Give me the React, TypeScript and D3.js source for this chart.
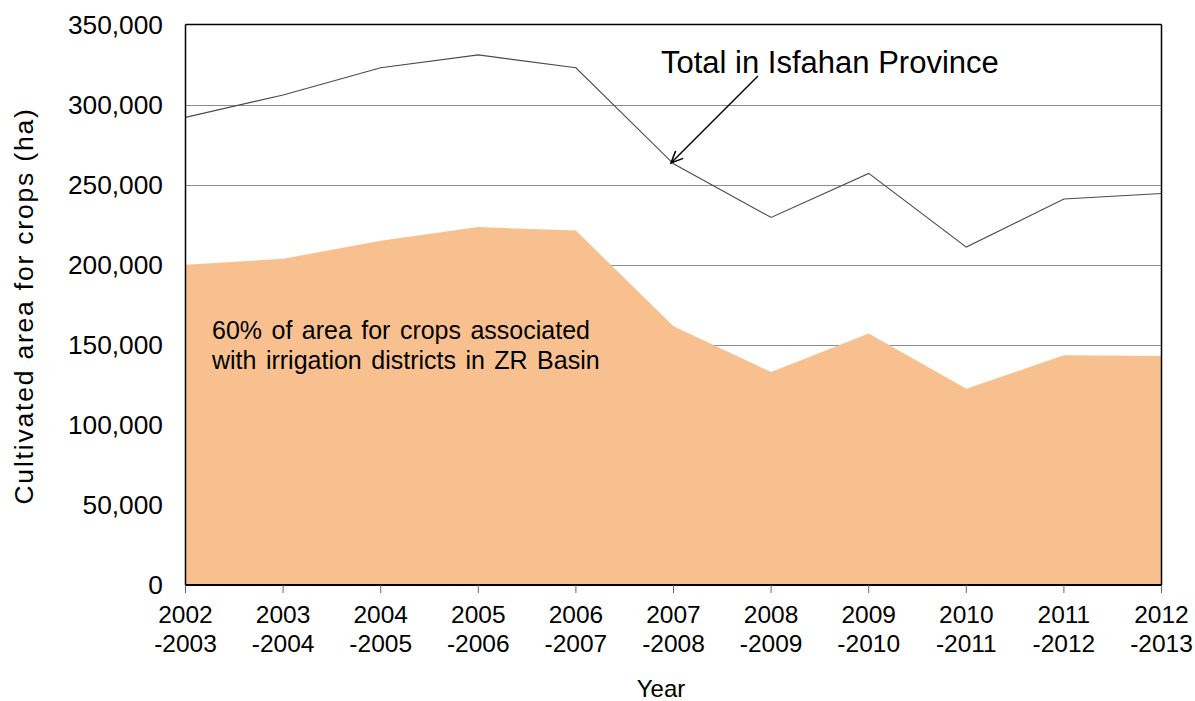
import React from "react";
import * as d3 from "d3";

const categories = ["2002", "2003", "2004", "2005", "2006", "2007", "2008", "2009", "2010", "2011", "2012"];
const categoryEnds = ["-2003", "-2004", "-2005", "-2006", "-2007", "-2008", "-2009", "-2010", "-2011", "-2012", "-2013"];
const totalIsfahan = [292000, 306000, 323000, 331000, 323000, 263000, 229500, 257000, 211000, 241000, 244500];
const zrBasin = [200000, 203700, 215000, 223500, 221300, 161500, 133000, 157000, 122500, 143500, 143000];
const yTicks = [0, 50000, 100000, 150000, 200000, 250000, 300000, 350000];

const W = 1195, H = 701;
const left = 185.5, right = 1161.5, top = 24.5, bottom = 585;
const font = "'Liberation Sans', Arial, sans-serif";

export default function App() {
  const x = d3.scalePoint<string>().domain(categories).range([left, right]);
  const y = d3.scaleLinear().domain([0, 350000]).range([bottom, top]);
  const area = d3.area<number>().x((_, i) => x(categories[i])!).y0(y(0)).y1((d) => y(d));
  const line = d3.line<number>().x((_, i) => x(categories[i])!).y((d) => y(d));
  const fmt = d3.format(",");

  // arrow annotation geometry
  const ax1 = 758, ay1 = 76, ax2 = 671, ay2 = 163;
  const ang = Math.atan2(ay1 - ay2, ax1 - ax2);
  const hl = 13, ha = 0.42;
  const h1 = [ax2 + hl * Math.cos(ang + ha), ay2 + hl * Math.sin(ang + ha)];
  const h2 = [ax2 + hl * Math.cos(ang - ha), ay2 + hl * Math.sin(ang - ha)];

  return (
    <svg width={W} height={H} style={{ position: "absolute", left: 0, top: 0, background: "#fff" }} fontFamily={font}>
      <rect x={0} y={0} width={W} height={H} fill="#fff" />
      {/* grid */}
      {yTicks.filter((t) => t > 0 && t < 350000).map((t) => (
        <line key={t} x1={left} x2={right} y1={Math.round(y(t)) + 0.5} y2={Math.round(y(t)) + 0.5} stroke="#8c8c8c" strokeWidth={1} />
      ))}
      {/* area */}
      <path d={area(zrBasin)!} fill="#F9C08F" />
      {/* total line */}
      <path d={line(totalIsfahan)!} fill="none" stroke="#4a4a4a" strokeWidth={1.1} />
      {/* frame */}
      <line x1={left} x2={right} y1={top} y2={top} stroke="#000" strokeWidth={1.5} />
      <line x1={right} x2={right} y1={top} y2={bottom} stroke="#000" strokeWidth={1.5} />
      <line x1={left} x2={left} y1={top} y2={bottom} stroke="#000" strokeWidth={1.5} />
      <line x1={left} x2={right} y1={bottom} y2={bottom} stroke="#000" strokeWidth={2} />
      {/* x ticks */}
      {categories.map((c) => (
        <line key={c} x1={x(c)!} x2={x(c)!} y1={bottom} y2={bottom + 8} stroke="#666" strokeWidth={1} />
      ))}
      {/* y tick labels */}
      {yTicks.map((t) => (
        <text key={t} x={163} y={y(t) + 9} textAnchor="end" fontSize={26.3} fill="#000">{fmt(t)}</text>
      ))}
      {/* x tick labels */}
      {categories.map((c, i) => (
        <g key={c}>
          <text x={x(c)!} y={623} textAnchor="middle" fontSize={24.5} fill="#000">{c}</text>
          <text x={x(c)!} y={652} textAnchor="middle" fontSize={24.5} fill="#000">{categoryEnds[i]}</text>
        </g>
      ))}
      {/* axis titles */}
      <text x={661} y={697} textAnchor="middle" fontSize={24} fill="#000">Year</text>
      <text transform={`translate(33,306) rotate(-90)`} textAnchor="middle" fontSize={26.5} letterSpacing={1.8} fill="#000">Cultivated area for crops (ha)</text>
      {/* annotations */}
      <text x={661} y={73} fontSize={31} fill="#000">Total in Isfahan Province</text>
      <line x1={ax1} y1={ay1} x2={ax2} y2={ay2} stroke="#000" strokeWidth={1.5} />
      <polyline points={`${h1[0]},${h1[1]} ${ax2},${ay2} ${h2[0]},${h2[1]}`} fill="none" stroke="#000" strokeWidth={1.5} />
      <text x={212} y={339} fontSize={25} wordSpacing={2.5} fill="#000">60% of area for crops associated</text>
      <text x={212} y={369} fontSize={25} wordSpacing={2.5} fill="#000">with irrigation districts in ZR Basin</text>
    </svg>
  );
}
